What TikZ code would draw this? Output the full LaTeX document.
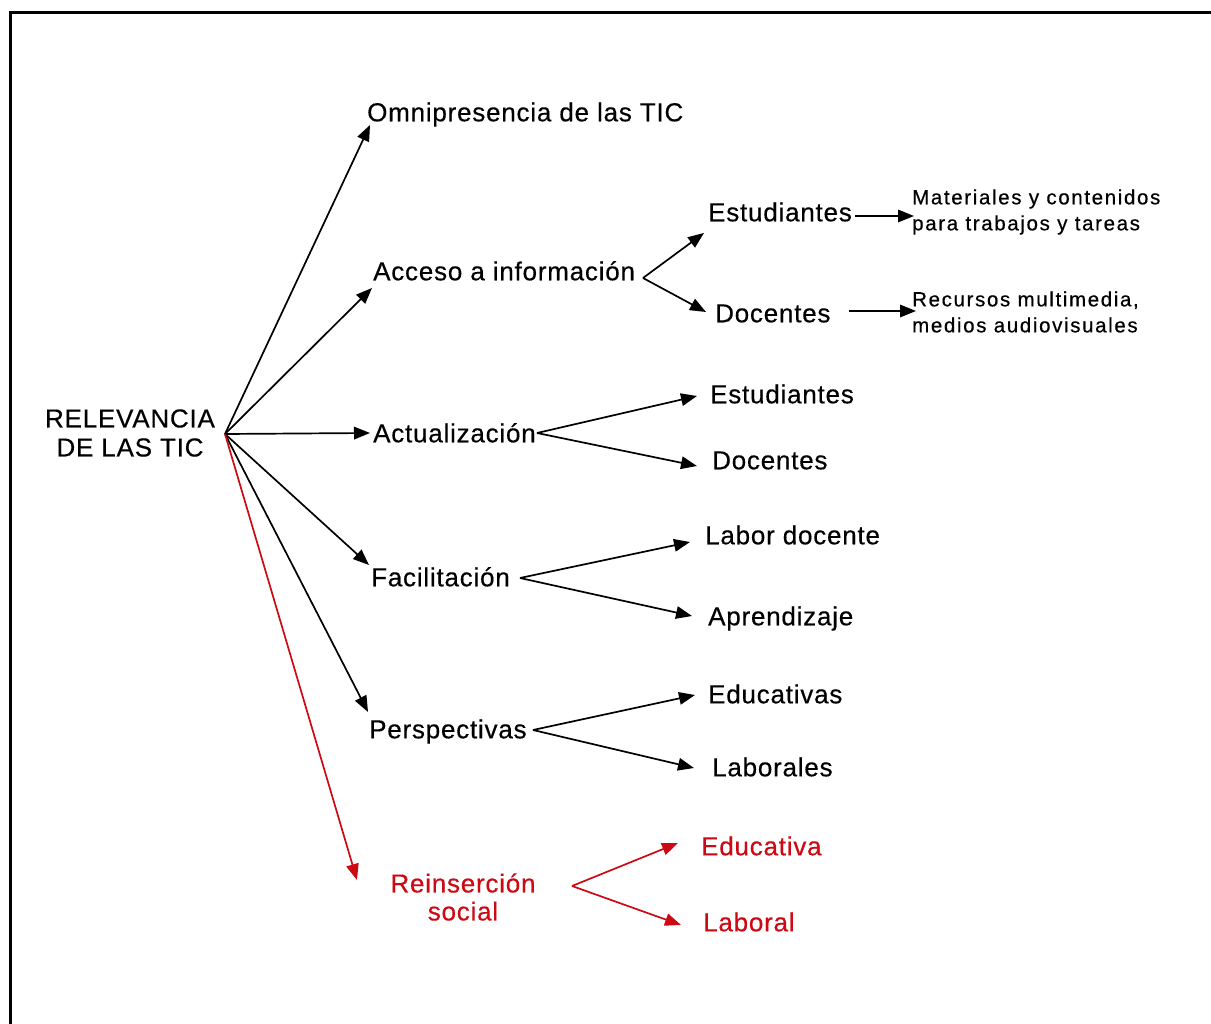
\documentclass[tikz,border=0pt]{standalone}
\usepackage{fontspec}
\setmainfont{Liberation Sans}
\newfontfamily\mainf{Liberation Sans}[LetterSpace=3,FakeBold=0.4]
\newfontfamily\smallf{Liberation Sans}[LetterSpace=8,FakeBold=0.5]
\usetikzlibrary{arrows.meta,calc}
\definecolor{tred}{RGB}{204,10,20}
\tikzset{
  lbl/.style={inner sep=0pt, anchor=west, text height=18.6pt, text depth=0pt, font=\mainf\fontsize{26}{30}\selectfont},
  sml/.style={inner sep=0pt, anchor=west, align=left, font=\smallf\fontsize{20.5}{26}\selectfont},
  arr/.style={line width=1.7pt, -{Triangle[length=16pt,width=12.5pt]}},
  rarr/.style={arr, draw=tred, fill=tred},
}
\begin{document}
\begin{tikzpicture}[x=1pt,y=-1pt]
\useasboundingbox (0,0) rectangle (1211,1024);
\draw[line width=2.2pt] (10.5,1030) -- (10.5,12.5) -- (1220,12.5);

% root
\node[inner sep=0pt, align=center, font=\mainf\fontsize{26}{29}\selectfont] (root) at (130,433) {RELEVANCIA\\DE LAS TIC};
\coordinate (hub) at (225,434);

% first level
\node[lbl] (omni) at (367,112) {Omnipresencia de las TIC};
\node[lbl] (acc) at (373,271) {Acceso a informaci\'on};
\node[lbl] (act) at (373,433) {Actualizaci\'on};
\node[lbl] (fac) at (371,577) {Facilitaci\'on};
\node[lbl] (per) at (369,729) {Perspectivas};
\node[inner sep=0pt, align=center, text=tred, font=\mainf\fontsize{26}{28}\selectfont] (rein) at (463,897) {Reinserci\'on\\social};

% second level
\node[lbl] (accE) at (708,212) {Estudiantes};
\node[lbl] (accD) at (715,313) {Docentes};
\node[lbl] (actE) at (710,394) {Estudiantes};
\node[lbl] (actD) at (712,460) {Docentes};
\node[lbl] (facL) at (705,535) {Labor docente};
\node[lbl] (facA) at (708,616) {Aprendizaje};
\node[lbl] (perE) at (708,694) {Educativas};
\node[lbl] (perL) at (712,767) {Laborales};
\node[lbl, text=tred] (reinE) at (701,846) {Educativa};
\node[lbl, text=tred] (reinL) at (703,922) {Laboral};

% third level
\node[sml] (mat) at (912,212) {Materiales y contenidos\\para trabajos y tareas};
\node[sml] (rec) at (912,312) {Recursos multimedia,\\medios audiovisuales};

% connectors from root
\draw[arr] (hub) -- ($(omni.west)+(3,13)$);
\draw[arr] (hub) -- ($(acc.west)+(-1,17)$);
\draw[arr] (hub) -- ($(act.west)+(-3,0)$);
\draw[arr] (hub) -- ($(fac.west)+(-2,-12)$);
\draw[arr] (hub) -- ($(per.west)+(-1,-17)$);
\draw[rarr] (hub) -- (357,880) coordinate (reintip);

% acceso
\coordinate (accfork) at (643,278);
\draw[arr] (accfork) -- ($(accE.west)+(-4,21)$);
\draw[arr] (accfork) -- ($(accD.west)+(-9,-1)$);
\draw[arr] ($(accE.east)+(3,4)$) -- ($(mat.west)+(2,4)$);
\draw[arr] ($(accD.east)+(18,-2)$) -- ($(rec.west)+(4,-1)$);

% actualizacion
\coordinate (actfork) at (537,433);
\draw[arr] (actfork) -- ($(actE.west)+(-13,2)$);
\draw[arr] (actfork) -- ($(actD.west)+(-15,6)$);

% facilitacion
\coordinate (facfork) at (520,578);
\draw[arr] (facfork) -- ($(facL.west)+(-15,7)$);
\draw[arr] (facfork) -- ($(facA.west)+(-16,0)$);

% perspectivas
\coordinate (perfork) at (533,730);
\draw[arr] (perfork) -- ($(perE.west)+(-13,1)$);
\draw[arr] (perfork) -- ($(perL.west)+(-18,1)$);

% reinsercion
\coordinate (reinfork) at (572,886);
\draw[rarr] (reinfork) -- ($(reinE.west)+(-23,-3)$);
\draw[rarr] (reinfork) -- ($(reinL.west)+(-22,3)$);
\end{tikzpicture}
\end{document}
